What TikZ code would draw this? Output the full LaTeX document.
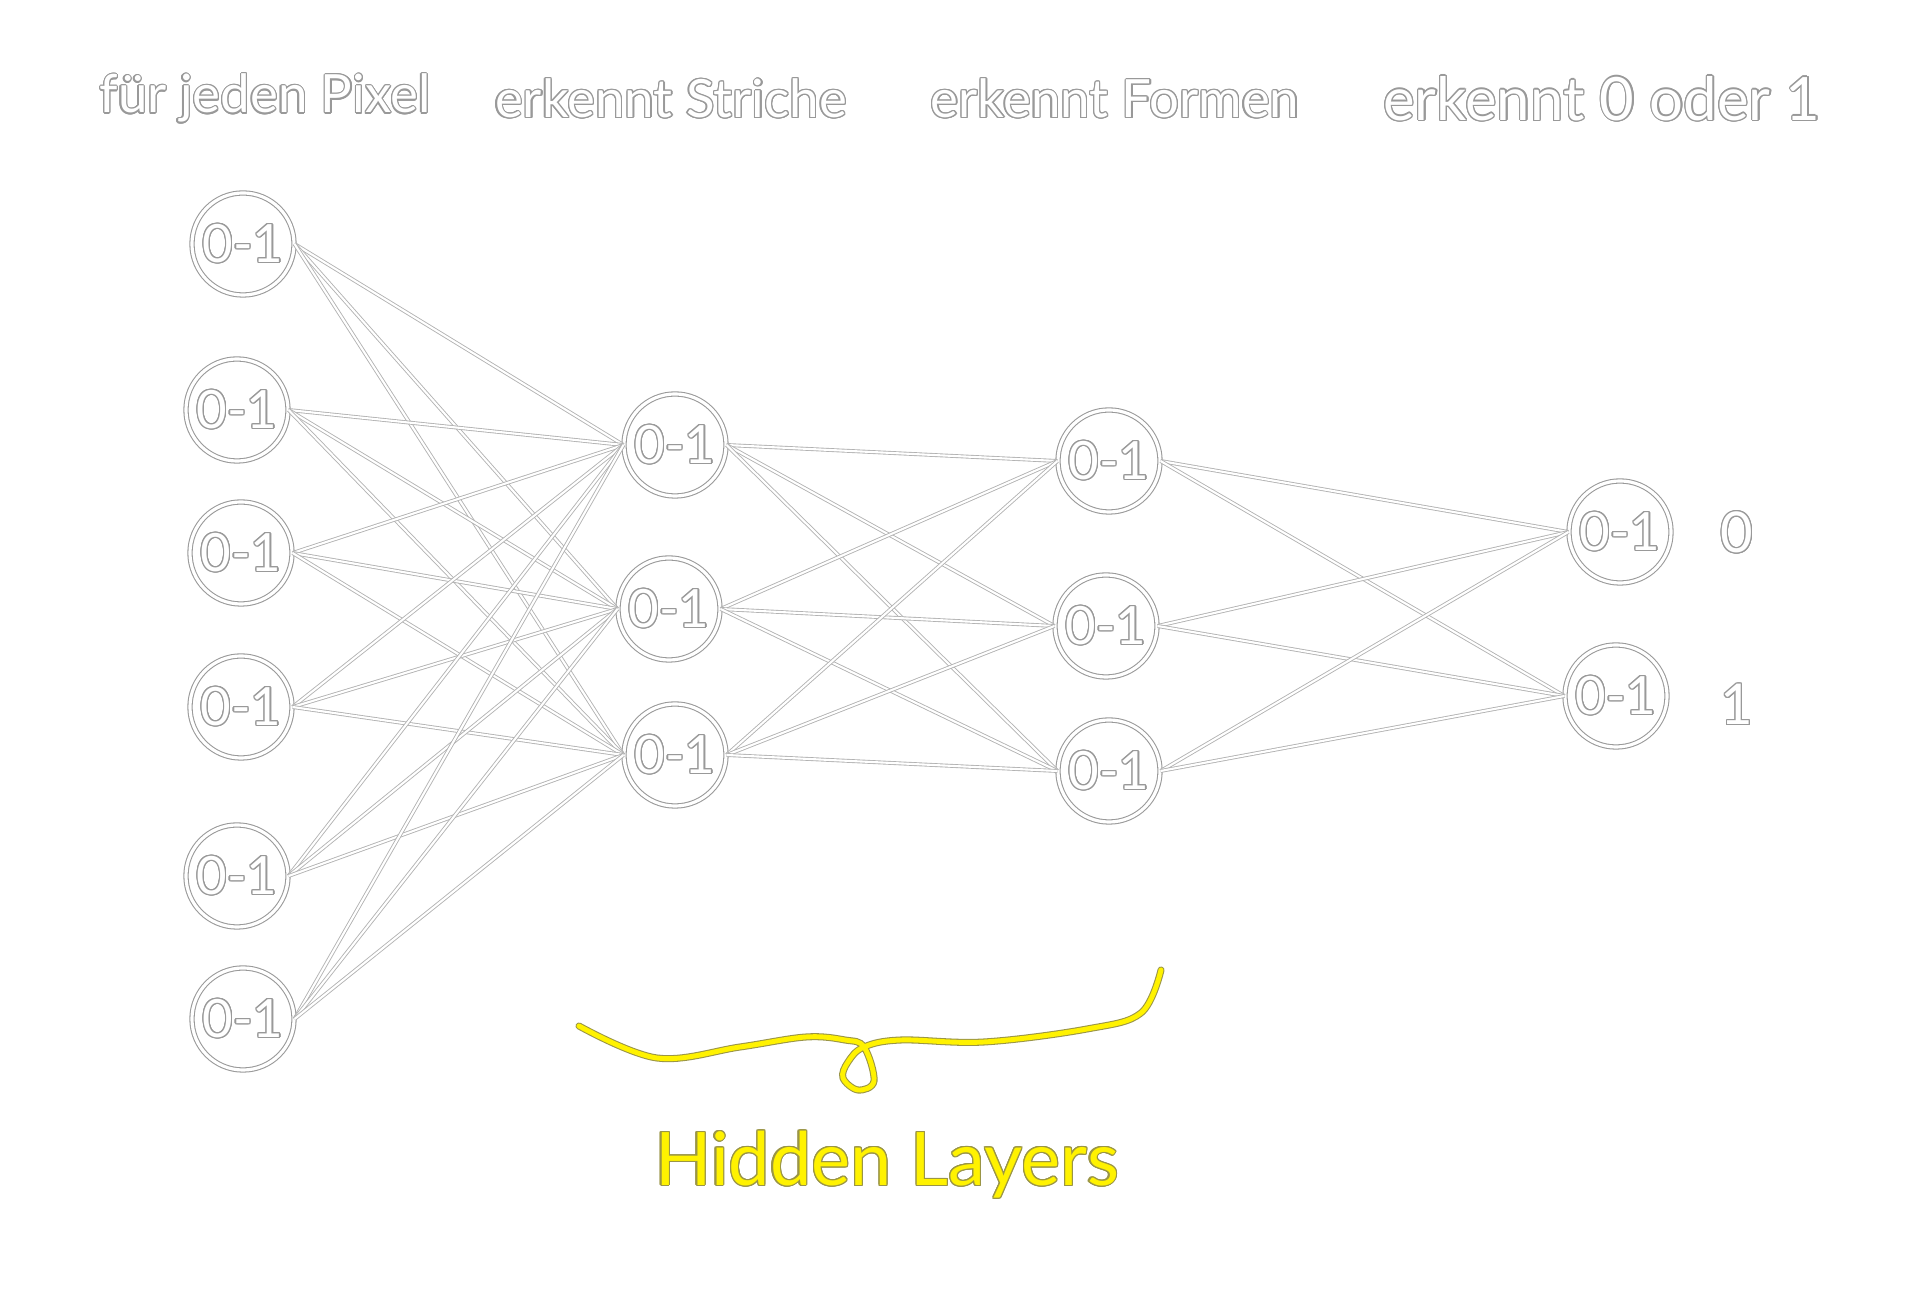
\documentclass[tikz,border=0pt]{standalone}
\usepackage{fontspec}
\setmainfont{Lato}
\usepackage{contour}
\contourlength{0.35pt}
\newcommand{\chalk}[1]{\contour{black!40}{#1}}
\newcommand{\marker}[1]{\contour{yellow!55!black}{#1}}

\begin{document}
\begin{tikzpicture}[x=0.01cm, y=-0.01cm,
  neuron/.style={circle, draw=black!40, double=white, line width=0.3pt, double distance=0.9pt,
    fill=white, minimum size=1.02cm, inner sep=0pt, text=white, font=\fontsize{15}{18}\selectfont},
  link/.style={draw=black!30, double=white, line width=0.25pt, double distance=0.6pt},
  heading/.style={text=white, font=\fontsize{15}{18}\selectfont},
  brace/.style={draw=yellow!55!black, double=yellow, line width=0.3pt, double distance=1.4pt, line cap=round}]
  \useasboundingbox (0,0) rectangle (1932,1289);
  % Headings
  \node[heading] at (265,99) (t1) {\chalk{für jeden Pixel}};
  \node[heading] at (671,99) (t2) {\chalk{erkennt Striche}};
  \node[heading] at (1115,99) (t3) {\chalk{erkennt Formen}};
  \node[heading, font=\fontsize{17}{20}\selectfont] at (1602,99) (t4) {\chalk{erkennt 0 oder 1}};
  % Input layer
  \node[neuron] at (243,244) (i1) {\chalk{0-1}};
  \node[neuron] at (237,410) (i2) {\chalk{0-1}};
  \node[neuron] at (241,553) (i3) {\chalk{0-1}};
  \node[neuron] at (241,707) (i4) {\chalk{0-1}};
  \node[neuron] at (237,876) (i5) {\chalk{0-1}};
  \node[neuron] at (243,1019) (i6) {\chalk{0-1}};
  % Hidden layers
  \node[neuron] at (675,445) (h1) {\chalk{0-1}};
  \node[neuron] at (669,609) (h2) {\chalk{0-1}};
  \node[neuron] at (675,755) (h3) {\chalk{0-1}};
  \node[neuron] at (1109,461) (g1) {\chalk{0-1}};
  \node[neuron] at (1106,626) (g2) {\chalk{0-1}};
  \node[neuron] at (1109,771) (g3) {\chalk{0-1}};
  % Output layer
  \node[neuron] at (1620,532) (o1) {\chalk{0-1}};
  \node[neuron] at (1616,696) (o2) {\chalk{0-1}};
  \node[text=white, font=\fontsize{16}{19}\selectfont] at (1737,533) (d0) {\chalk{0}};
  \node[text=white, font=\fontsize{16}{19}\selectfont] at (1737,705) (d1) {\chalk{1}};
  % Lines
  \foreach \a in {i1,i2,i3,i4,i5,i6}
    \foreach \b in {h1,h2,h3}
      \draw[link] (\a.east) -- (\b.west);
  \foreach \a in {h1,h2,h3}
    \foreach \b in {g1,g2,g3}
      \draw[link] (\a.east) -- (\b.west);
  \foreach \a in {g1,g2,g3}
    \foreach \b in {o1,o2}
      \draw[link] (\a.east) -- (\b.west);
  % Brace
  \draw[brace] plot[smooth, tension=0.6] coordinates {(579,1026) (657,1058) (740,1047) (806,1037)
    (845,1040) (864,1047) (874,1081) (858,1090) (843,1078) (848,1062) (864,1047)
    (901,1040) (984,1042) (1087,1029) (1141,1013) (1161,970)};
  \node[text=yellow, font=\fontsize{21}{25}\selectfont] at (887,1165) (hl) {\marker{Hidden Layers}};
\end{tikzpicture}
\end{document}
